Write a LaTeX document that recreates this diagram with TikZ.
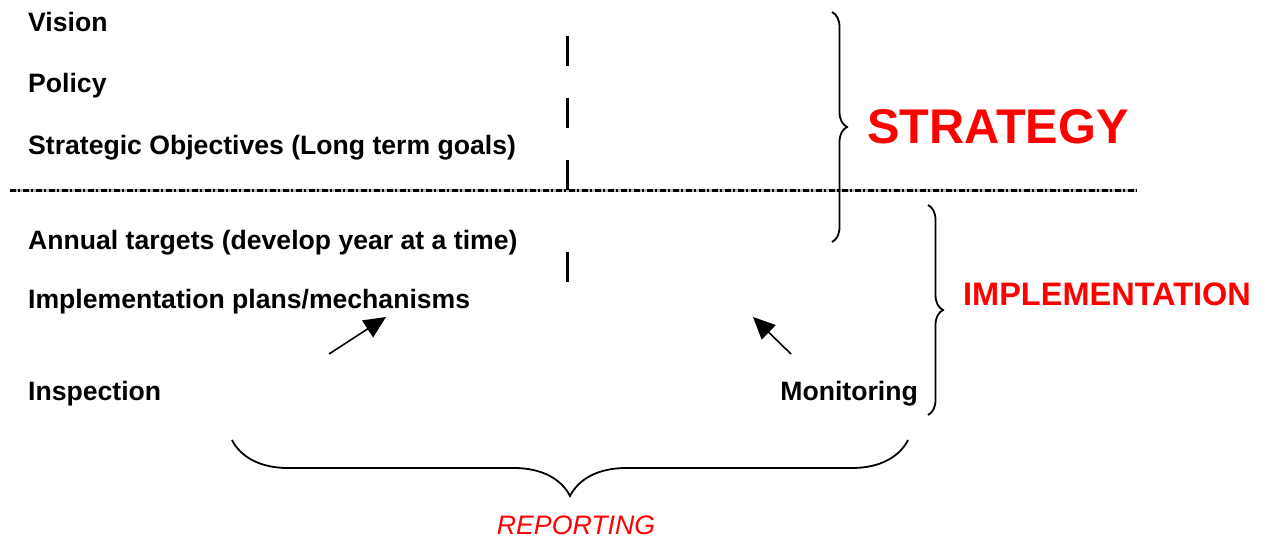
\documentclass[tikz,border=0pt]{standalone}
\usepackage{fontspec}
\setmainfont{Liberation Sans}
\usetikzlibrary{arrows.meta,decorations.pathreplacing}

\begin{document}
\begin{tikzpicture}[
    x=1pt,y=-1pt,
    item/.style={anchor=base west,inner sep=0pt,font=\fontsize{26.6}{30}\selectfont\bfseries},
    label/.style={inner sep=0pt,text=red},
    curly/.style={decorate,decoration={brace,amplitude=#1},line width=1.8pt},
    pointer/.style={-{Triangle[length=22pt,width=20pt]},line width=1.6pt}
  ]
    \useasboundingbox (0,0) rectangle (1268,538);
    % left column
    \node[item] (vision)     at (28,31)  {Vision};
    \node[item] (policy)     at (28,92)  {Policy};
    \node[item] (objectives) at (28,154) {Strategic Objectives (Long term goals)};
    \node[item] (targets)    at (28,249) {Annual targets (develop year at a time)};
    \node[item] (plans)      at (28,308) {Implementation plans/mechanisms};
    \node[item] (inspection) at (28,400) {Inspection};
    \node[item,anchor=base east] (monitoring) at (918,400) {Monitoring};
    % divider
    \draw[gray!55,line width=3pt] (10,190) -- (1137,190);
    \draw[line width=3pt,dash pattern=on 6pt off 2pt on 2pt off 3pt] (10,190) -- (1137,190);
    \foreach \ya/\yb in {36/66,98/128,160/190,252/282}
      \draw[line width=3pt] (567,\ya) -- (567,\yb);
    % braces
    \draw[curly=15pt] (832,12) -- (832,242);
    \draw[curly=15pt] (928,205) -- (928,415);
    \draw[curly=56pt] (908,440) -- (232,440);
    \node[label,anchor=west,font=\fontsize{48.7}{52}\selectfont\bfseries] (strategy) at (867,127) {STRATEGY};
    \node[label,anchor=west,font=\fontsize{32.5}{36}\selectfont\bfseries] (implementation) at (963,294) {IMPLEMENTATION};
    \node[label,font=\fontsize{26.7}{30}\selectfont\itshape] (reporting) at (576,525) {REPORTING};
    % arrows
    \coordinate (ia) at (329,354);
    \coordinate (ib) at (386,317);
    \coordinate (ma) at (791,354);
    \coordinate (mb) at (753,317);
    \draw[pointer] (ia) -- (ib);
    \draw[pointer] (ma) -- (mb);
  \end{tikzpicture}
\end{document}
